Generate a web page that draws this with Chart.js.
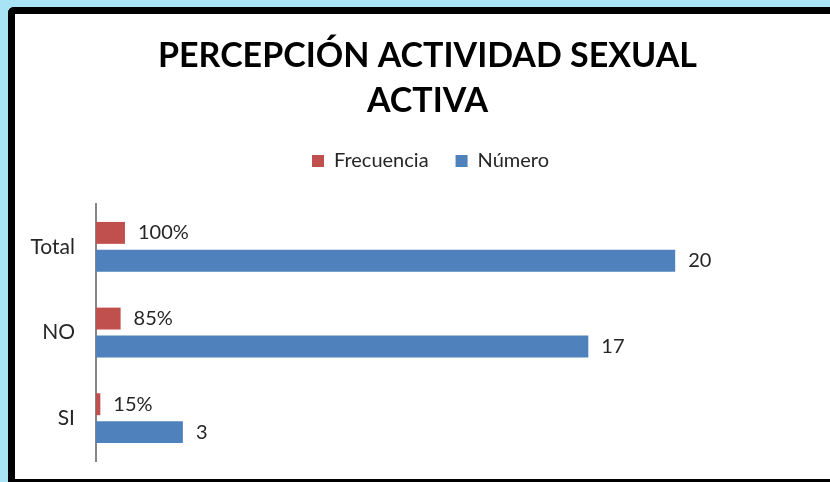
<!DOCTYPE html>
<html>
<head>
<meta charset="utf-8">
<script src="https://cdn.jsdelivr.net/npm/chart.js@4/dist/chart.umd.min.js"></script>
<style>
  html, body { margin: 0; padding: 0; width: 830px; height: 482px; overflow: hidden; background: #a8e4f5; }
  #box {
    position: absolute; left: 8px; top: 7px; width: 840px; height: 475px;
    box-sizing: border-box; background: #fff;
    border-left: 7px solid #000; border-top: 7px solid #000; border-bottom: 3px solid #000;
    border-top-left-radius: 6px;
  }
  #chart { position: absolute; left: 0; top: 0; }
</style>
</head>
<body>
<div id="box"><canvas id="chart" width="825" height="465"></canvas></div>
<script>
// datos
var categorias = ["Total", "NO", "SI"];
var frecuencia = [1.00, 0.85, 0.15];
var numero = [20, 17, 3];

var fuente = "Lato, 'Open Sans', sans-serif";

// etiquetas de datos al final de cada barra
var etiquetas = {
    id: 'etiquetas',
    afterLayout: function(chart) {
        // titulo y leyenda centrados en todo el recuadro, no solo en el area
        chart.titleBlock.left += 10;
        chart.titleBlock.right += 10;
        chart.legend.left += 13;
        chart.legend.right += 13;
    },
    afterDatasetsDraw: function(chart) {
        var ctx = chart.ctx;
        ctx.save();
        ctx.font = "20px " + fuente;
        ctx.fillStyle = "#262626";
        ctx.textAlign = "left";
        ctx.textBaseline = "middle";
        chart.data.datasets.forEach(function(ds, i) {
            chart.getDatasetMeta(i).data.forEach(function(bar, j) {
                var v = ds.data[j];
                var txt = i === 0 ? Math.round(v * 100) + "%" : String(v);
                ctx.fillText(txt, bar.x + 13, bar.y);
            });
        });
        ctx.restore();
    }
};

var ctx = document.getElementById('chart');
var grafico = new Chart(ctx, {
    type: 'bar',
    plugins: [etiquetas],
    data: {
        labels: categorias,
        datasets: [{
            label: "Frecuencia",
            data: frecuencia,
            backgroundColor: "#c0504d",
            categoryPercentage: 0.651,
            barPercentage: 0.786
        }, {
            label: "Número",
            data: numero,
            backgroundColor: "#4f81bd",
            categoryPercentage: 0.651,
            barPercentage: 0.786
        }]
    },
    options: {
        indexAxis: 'y',
        responsive: false,
        animation: false,
        devicePixelRatio: 1,
        layout: { padding: { left: 0, right: 20, top: 0, bottom: 18 } },
        plugins: {
            title: {
                display: true,
                text: ["PERCEPCIÓN ACTIVIDAD SEXUAL", "ACTIVA"],
                color: "#000",
                font: { family: fuente, size: 34, weight: 'bold', lineHeight: '45px' },
                padding: { top: 20, bottom: 0 }
            },
            legend: {
                display: true,
                labels: {
                    color: "#262626",
                    font: { family: fuente, size: 20 },
                    boxWidth: 12,
                    boxHeight: 12,
                    padding: 27
                }
            },
            tooltip: { enabled: false }
        },
        scales: {
            x: {
                position: 'top',
                min: 0,
                max: 25,
                ticks: { display: false },
                grid: { display: false },
                border: { display: false },
                afterFit: function(s) { s.height = 23; }
            },
            y: {
                grid: { display: false, drawTicks: false },
                border: { display: true, color: "#868686", width: 2 },
                ticks: { color: "#262626", padding: 21, font: { family: fuente, size: 21 } },
                afterFit: function(s) {
                    s.width = 81;
                    s.paddingTop = 0;
                    s.paddingBottom = 0;
                }
            }
        }
    }
});
</script>
</body>
</html>
